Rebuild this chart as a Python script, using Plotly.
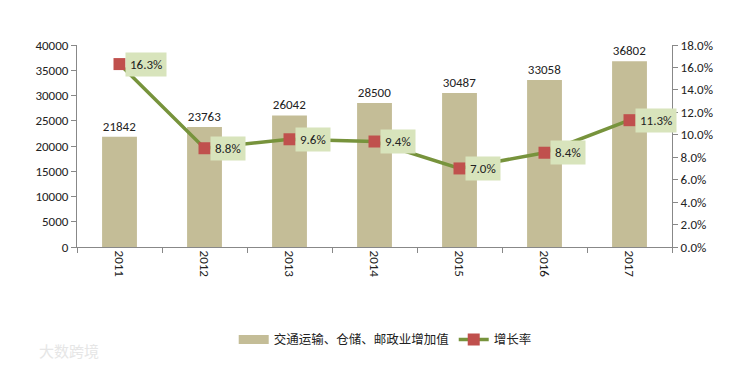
import plotly.graph_objects as go

years = ["2011", "2012", "2013", "2014", "2015", "2016", "2017"]
value_added = [21842, 23763, 26042, 28500, 30487, 33058, 36802]
growth = [16.3, 8.8, 9.6, 9.4, 7.0, 8.4, 11.3]
left_ticks = [0, 5000, 10000, 15000, 20000, 25000, 30000, 35000, 40000]
right_ticks = [0, 2, 4, 6, 8, 10, 12, 14, 16, 18]

xs = [int(y) for y in years]
font_family = "Calibri, Carlito, 'Open Sans', 'Noto Sans', 'Noto Sans CJK SC', sans-serif"
bar_color = "#c4bd97"

fig = go.Figure()
fig.add_trace(go.Bar(
    x=xs, y=value_added, name="交通运输、仓储、邮政业增加值", showlegend=False,
    marker=dict(color=bar_color, line=dict(width=0)),
    text=[str(v) for v in value_added], textposition="outside",
    textfont=dict(size=13, color="#222222"), cliponaxis=False,
    width=0.41,
))
# legend-only entry to mimic the wide bar swatch
fig.add_trace(go.Scatter(
    x=[None], y=[None], name="交通运输、仓储、邮政业增加值", mode="lines",
    line=dict(color=bar_color, width=9),
))
fig.add_trace(go.Scatter(
    x=xs, y=growth, name="增长率", yaxis="y2", mode="lines+markers",
    line=dict(color="#77933c", width=3.5),
    marker=dict(symbol="square", size=12, color="#c0504d"),
))

for x, g in zip(xs, growth):
    fig.add_annotation(
        x=x, y=g, xref="x", yref="y2", text=f"{g:.1f}%", showarrow=False,
        xanchor="left", xshift=5, bgcolor="#d8e4bc",
        font=dict(size=13, color="#222222"), borderpad=4,
    )

fig.add_annotation(
    x=0, y=0, xref="paper", yref="paper", xanchor="left", yanchor="middle",
    text="大数跨境", showarrow=False, font=dict(size=15, color="#e6e6e6"),
    xshift=-40, yshift=-105,
)

fig.update_layout(
    width=744, height=367,
    margin=dict(l=77, r=72, t=45, b=120),
    paper_bgcolor="white", plot_bgcolor="white",
    font=dict(family=font_family, size=13, color="#222222"),
    showlegend=True,
    legend=dict(orientation="h", x=0.518, xanchor="center", y=-0.385, yanchor="top",
                font=dict(size=12.5, family="'Noto Sans CJK SC', sans-serif")),
    xaxis=dict(
        range=[2010.5, 2017.5], tickvals=xs, ticktext=years, tickangle=90,
        showline=True, linecolor="#888888", ticks="", showgrid=False, zeroline=False,
        tickfont=dict(size=13),
        minor=dict(tick0=2010.5, dtick=1, ticks="outside", ticklen=5,
                   tickcolor="#888888", showgrid=False),
    ),
    yaxis=dict(
        range=[0, 40000], tickvals=left_ticks, ticktext=[str(t) for t in left_ticks],
        showgrid=False, showline=True,
        linecolor="#888888", ticks="outside", ticklen=5, tickcolor="#888888",
        tickfont=dict(size=13), zeroline=False,
    ),
    yaxis2=dict(
        range=[0, 18], tickvals=right_ticks,
        ticktext=[f"{t:.1f}%" for t in right_ticks],
        overlaying="y", side="right", showgrid=False, showline=True,
        linecolor="#888888", ticks="outside", ticklen=5, tickcolor="#888888",
        tickfont=dict(size=13), zeroline=False,
    ),
)

fig.write_html("out.html", config={"displayModeBar": False},
               post_script="document.body.style.margin='0';")
